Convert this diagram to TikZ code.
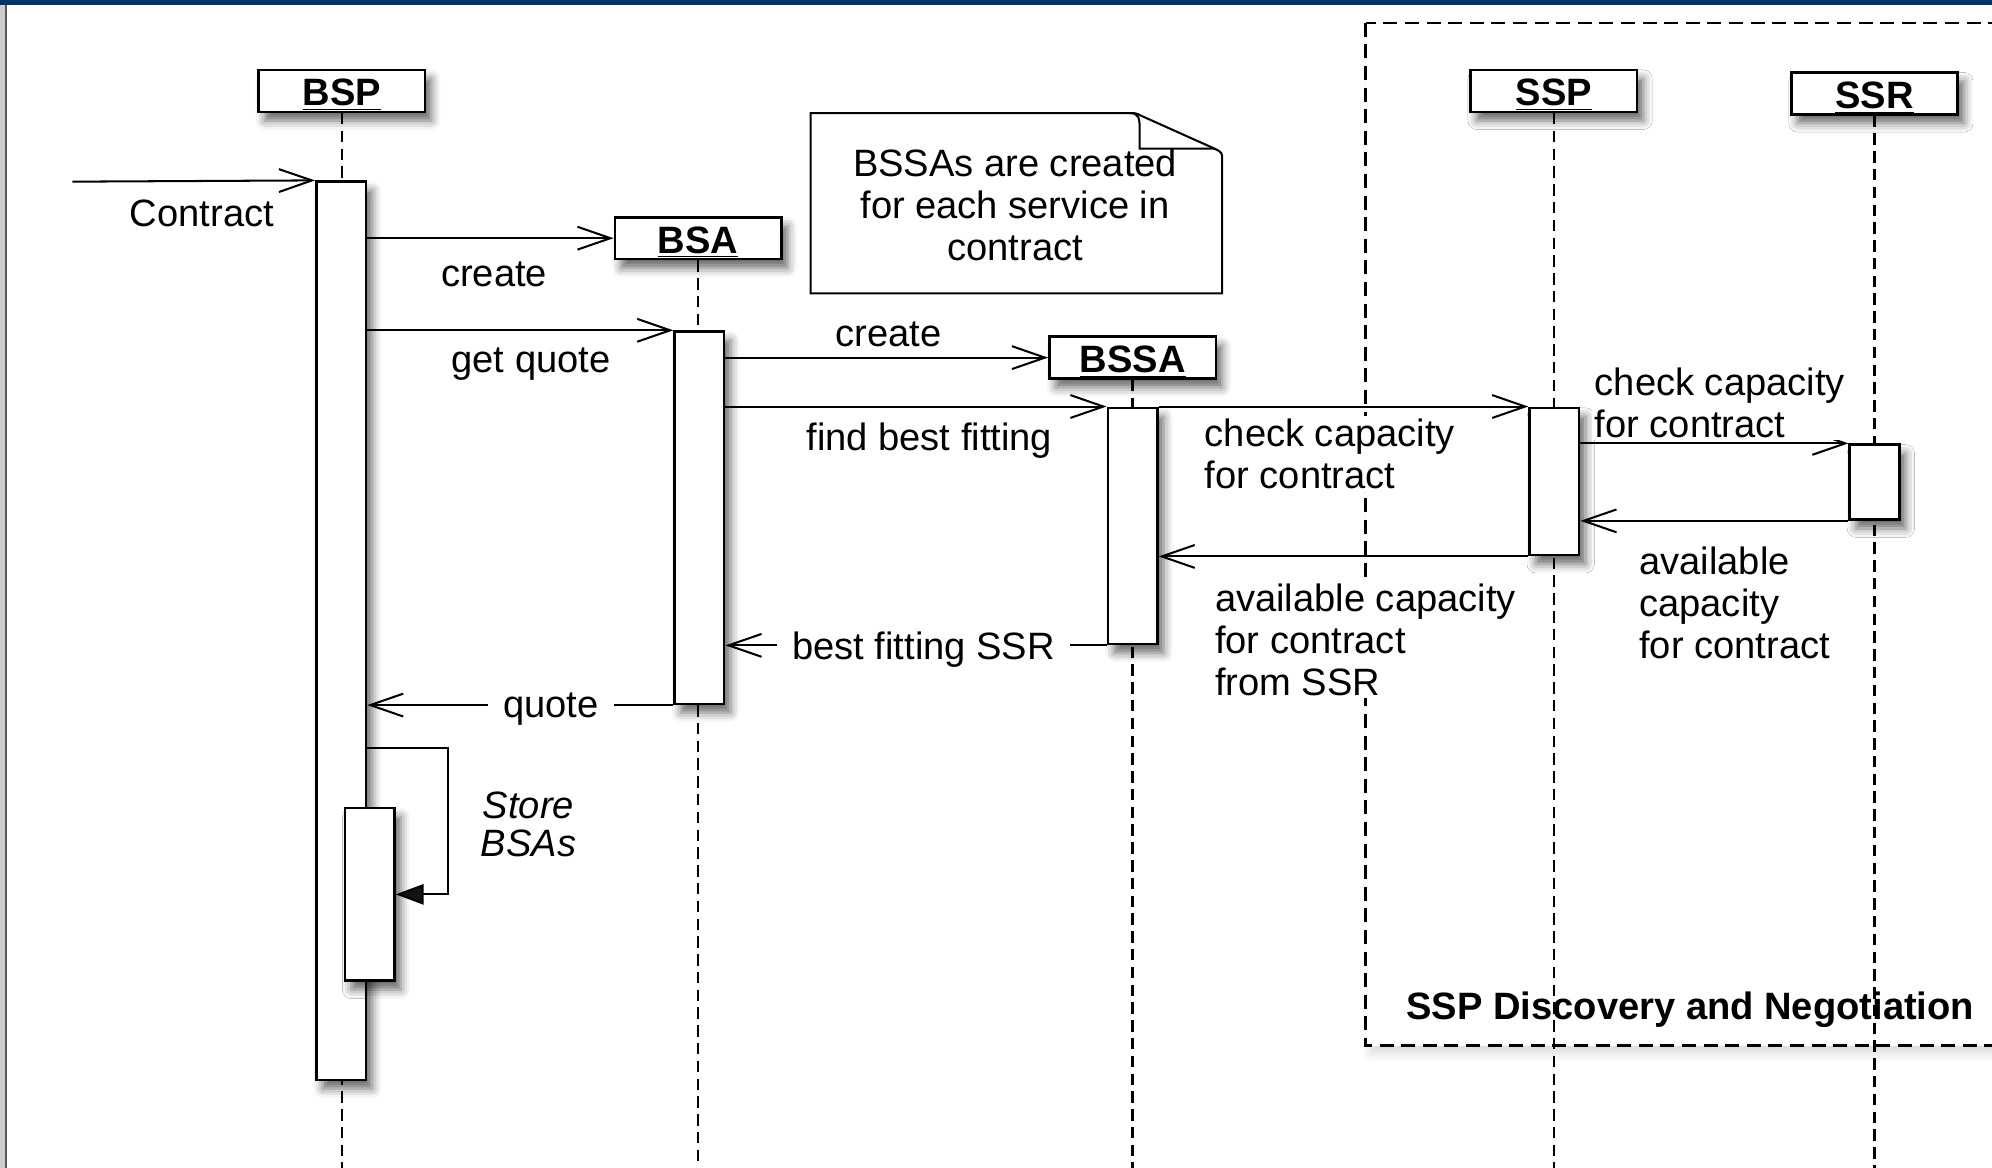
\documentclass[tikz,border=0pt]{standalone}
\usepackage{fontspec}
\setmainfont{Liberation Sans}
\usetikzlibrary{arrows.meta,fit,shadows.blur}
\begin{document}
\begin{tikzpicture}[x=0.5pt, y=-0.5pt,
    every node/.style={font=\fontsize{15}{16.5}\selectfont},
    boxshadow/.style={blur shadow={shadow xshift=2.5pt, shadow yshift=-3.5pt, shadow blur radius=3.5pt, shadow opacity=60}},
    object/.style={draw, line width=1pt, fill=white, boxshadow, minimum width=65.5pt, minimum height=16.5pt, inner sep=0pt, text height=12pt, text depth=0.3pt, font=\fontsize{15}{16.5}\selectfont\bfseries},
    activation/.style={draw, line width=1pt, fill=white, boxshadow, inner sep=0pt},
    lifeline/.style={line width=0.9pt, dash pattern=on 4.5pt off 2.5pt},
    msg/.style={line width=0.8pt, -{Straight Barb[length=13pt, width=9pt]}},
    selfmsg/.style={line width=0.8pt, -{Triangle[length=11pt, width=8pt]}},
    lbl/.style={fill=white, inner sep=1pt},
    onlbl/.style={fill=white, inner xsep=6pt, inner ysep=1pt, yshift=-1.5pt},
    groupbox/.style={line width=1pt, fill=white, dash pattern=on 5.5pt off 3pt, blur shadow={shadow xshift=2pt, shadow yshift=-3pt, shadow blur radius=4pt, shadow opacity=15}}]
    \definecolor{framebar}{RGB}{0,51,102}
    \def\actbar#1#2#3#4{\node[activation, fit={(#2-19.5,#3) (#2+19.5,#4)}] (#1) {};}
    \clip (0,0) rectangle (1568,919);
    \draw[groupbox] (1075,18) rectangle (1600,823);
    \node[object] (bsp) at (269,71.5) {\underline{BSP}};
    \node[object] (bsa) at (549.5,187.5) {\underline{BSA}};
    \node[object] (bssa) at (891.5,281.5) {\underline{BSSA}};
    \node[object] (ssp) at (1223,71.5) {\underline{SSP}};
    \node[object] (ssr) at (1475.5,73.5) {\underline{SSR}};
    \coordinate (bottom) at (0,919);
    \coordinate (contractin) at (57,143);
    \coordinate (storeturn) at (353,589);
    \foreach \obj in {bsp,bsa,bssa,ssp,ssr}
      \draw[lifeline] (\obj.south) -- (\obj.south |- bottom);
    \actbar{bspact}{268.5}{143}{850}
    \actbar{bsaact}{550.5}{261}{554}
    \actbar{bssaact}{891.5}{321}{507}
    \actbar{sspact}{1223.5}{321}{437}
    \actbar{ssract}{1475.5}{350}{409}
    \actbar{storeact}{291}{636}{772}
    \node[font=\fontsize{15}{16.5}\selectfont\bfseries] (grouplbl) at (1330.5,795) {SSP Discovery and Negotiation};
    \draw[msg] (contractin) -- (bspact.north west);
    \draw[msg] (bspact.east |- bsa.west) -- (bsa.west);
    \draw[msg] (bspact.east |- bsaact.north) -- (bsaact.north west);
    \draw[msg] (bsaact.east |- bssa.west) -- (bssa.west);
    \draw[msg] (bsaact.east |- bssaact.north) -- (bssaact.north west);
    \draw[msg] (bssaact.east |- sspact.north) -- (sspact.north west);
    \draw[msg] (sspact.east |- ssract.north) -- (ssract.north west);
    \draw[msg] (ssract.south west) -- (sspact.east |- ssract.south);
    \draw[msg] (sspact.south west) -- (bssaact.east |- sspact.south);
    \draw[msg] (bssaact.south west) -- node[onlbl, pos=0.48] (bestlbl) {best fitting SSR} (bsaact.east |- bssaact.south);
    \draw[msg] (bsaact.south west) -- node[onlbl, pos=0.4] (quotelbl) {quote} (bspact.east |- bsaact.south);
    \draw[selfmsg] (bspact.east |- storeturn) -- (storeturn) |- (storeact.east);
    \node[lbl] (contractlbl) at (159,168) {Contract};
    \node[lbl] (createlbl) at (389,216) {create};
    \node[lbl] (getquotelbl) at (418,287) {get quote};
    \node[lbl] (createbssalbl) at (699.5,263.5) {create};
    \node[lbl] (findlbl) at (731.5,347) {find best fitting};
    \node[lbl, anchor=west, align=left] (checklbl) at (946,357) {check capacity\\for contract};
    \node[lbl, anchor=west, align=left] (checkssrlbl) at (1253,317) {check capacity\\for contract};
    \node[lbl, anchor=west, align=left] (availssrlbl) at (1288,474.5) {available\\capacity\\for contract};
    \node[lbl, anchor=west, align=left] (availssplbl) at (954,503.5) {available capacity\\for contract\\from SSR};
    \node[lbl, align=center, font=\fontsize{15}{15}\selectfont\itshape] (storelbl) at (416,649) {Store\\BSAs};
    \draw[line width=0.8pt, fill=white] (638,89) -- (889,89) .. controls (894,89) .. (898,91) -- (956,117) .. controls (962,120) .. (962,126) -- (962,231) -- (638,231) -- cycle;
    \draw[line width=0.8pt] (889,89) .. controls (897,89) and (897,94) .. (897,100) -- (897,117) -- (956,117);
    \node[align=center] (notelbl) at (799,161.5) {BSSAs are created\\for each service in\\contract};
    \fill[framebar] (0,0) rectangle (1568,4);
    \fill[black!20] (0,4) rectangle (5,919);
    \draw[black!65, line width=0.8pt] (5,4) -- (5,919);
\end{tikzpicture}
\end{document}
